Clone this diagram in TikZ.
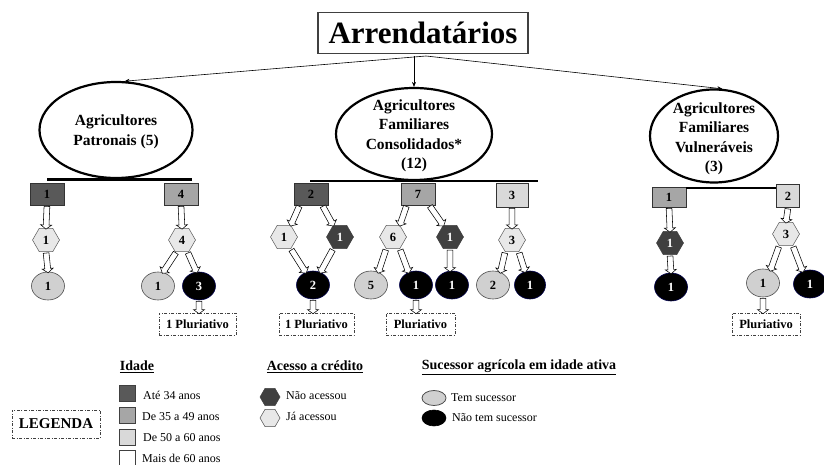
\documentclass[tikz,border=0pt]{standalone}
\usepackage{fontspec}
\setmainfont{Liberation Serif}
\usetikzlibrary{shapes.geometric,shapes.arrows,arrows.meta,calc}
\definecolor{cdark}{RGB}{89,89,89}
\definecolor{cmed}{RGB}{166,166,166}
\definecolor{clight}{RGB}{217,217,217}
\definecolor{hexlight}{RGB}{232,232,232}
\definecolor{hexdark}{RGB}{64,64,64}
\definecolor{leaflight}{RGB}{208,208,208}
\definecolor{titleborder}{RGB}{64,64,64}
\begin{document}
\begin{tikzpicture}[x=1pt,y=-1pt,
  ttl/.style={draw=titleborder, line width=1.8pt, minimum width=210pt, minimum height=41pt, inner sep=0pt, font=\fontsize{31}{34}\selectfont\bfseries},
  bigell/.style={ellipse, draw=black, line width=2.2pt, fill=white, inner sep=0pt},
  elltext/.style={font=\fontsize{15.5}{19.5}\selectfont\bfseries, align=center, inner sep=0pt},
  agebox/.style={rectangle, draw=black!80, line width=0.6pt, minimum width=34pt, minimum height=22pt, inner sep=0pt, font=\fontsize{12.5}{14}\selectfont\bfseries},
  hexL/.style={regular polygon, regular polygon sides=6, minimum size=27pt, inner sep=0pt, draw=gray!70!black, line width=0.5pt, fill=hexlight, font=\fontsize{12.5}{14}\selectfont\bfseries},
  hexD/.style={hexL, fill=hexdark, draw=hexdark, text=white},
  leafL/.style={ellipse, minimum width=33pt, minimum height=28pt, inner sep=0pt, draw=gray!60!black, line width=0.6pt, fill=leaflight, font=\fontsize{12.5}{14}\selectfont\bfseries},
  leafB/.style={leafL, fill=black, draw=black!70!blue, text=white},
  pluri/.style={draw=black!75, line width=0.6pt, dash pattern=on 3pt off 1.5pt on 1pt off 1.5pt, minimum height=22pt, inner sep=0pt, font=\fontsize{12.5}{15}\selectfont\bfseries},
  bar/.style={line width=2.5pt, black},
  thinarr/.style={draw=black, line width=0.6pt, -{Stealth[length=5pt,width=4pt]}},
  arrowbody/.style={single arrow, draw=black, line width=0.55pt, fill=white, inner sep=2.6pt, single arrow head extend=2.6pt, single arrow tip angle=105, outer sep=0pt},
  barrow/.style={to path={let \p1=(\tikztostart), \p2=(\tikztotarget), \n1={atan2(\y2-\y1,\x2-\x1)}, \n2={veclen(\x2-\x1,\y2-\y1)} in node[arrowbody, minimum height=\n2, rotate=\n1] at ($(\p1)!0.5!(\p2)$) {}}},
  sq/.style={rectangle, draw=gray!50!black, line width=0.8pt, minimum size=16pt, inner sep=0pt},
  legtext/.style={anchor=west, inner sep=0pt, font=\fontsize{12}{14}\selectfont},
  head/.style={inner sep=0pt, font=\fontsize{14}{16}\selectfont\bfseries}
]
\useasboundingbox (0,0) rectangle (824,465);

% title
\node[ttl] (T) at (423,33) {Arrendatários};
\coordinate (ts) at (426,56);

% big ellipses
\node[bigell, minimum width=153pt, minimum height=96pt] (E1) at (116,130) {};
\node[elltext] (E1t) at (116,132) {Agricultores\\Patronais (5)};
\node[bigell, minimum width=156pt, minimum height=92pt] (E2) at (414,134) {};
\node[elltext] (E2t) at (414,136) {Agricultores\\Familiares\\Consolidados*\\(12)};
\node[bigell, minimum width=128pt, minimum height=93pt] (E3) at (714,136) {};
\node[elltext] (E3t) at (714,139) {Agricultores\\Familiares\\Vulneráveis\\(3)};

\draw[thinarr] (ts) -- (E1.80);
\draw[thinarr] (E2.north |- ts) -- (E2.north);
\draw[thinarr] (ts) -- (E3.80);

% age boxes
\node[agebox, fill=cdark] (B11) at (47,194) {1};
\node[agebox, fill=cmed] (B12) at (181,194) {4};
\node[agebox, fill=cdark] (B21) at (311,194) {2};
\node[agebox, fill=cmed] (B22) at (418,194) {7};
\node[agebox, fill=clight, minimum width=32pt, minimum height=24pt] (B23) at (512,195) {3};
\node[agebox, fill=cmed, minimum height=20pt] (B31) at (669,197) {1};
\node[agebox, fill=clight, minimum width=23pt, minimum height=23pt] (B32) at (788,196) {2};

\draw[bar] ([yshift=3pt]B11.north) -- ([xshift=11pt,yshift=3pt]B12.north);
\draw[bar, line width=2pt] ([xshift=-1pt,yshift=2pt]B21.north) -- ([xshift=26pt,yshift=2pt]B23.north);
\draw[bar, line width=2pt] ([yshift=-1pt]B31.north east) -- ([yshift=-1pt]B31.north east -| B32.west);

% hexagons
\node[hexL] (H11) at (46,240) {1};
\node[hexL] (H12) at (182,240) {4};
\node[hexL] (H21) at (284,237) {1};
\node[hexD] (H22) at (340,237) {1};
\node[hexL] (H23) at (393,237) {6};
\node[hexD] (H24) at (450,237) {1};
\node[hexL] (H25) at (512,240) {3};
\node[hexD] (H31) at (670,243) {1};
\node[hexL] (H32) at (786,234) {3};

% leaves
\node[leafL] (L11) at (48,286) {1};
\node[leafL] (L12) at (158,286) {1};
\node[leafB] (L13) at (199,286) {3};
\node[leafB] (L21) at (313,285) {2};
\node[leafL] (L22) at (371,285) {5};
\node[leafB] (L23) at (416,285) {1};
\node[leafB] (L24) at (452,285) {1};
\node[leafL] (L25) at (493,285) {2};
\node[leafB, minimum width=31pt] (L26) at (530,285) {1};
\node[leafB] (L31) at (671,287) {1};
\node[leafL] (L32) at (763,283) {1};
\node[leafB] (L33) at (810,284) {1};

% pluriativo
\node[pluri, minimum width=77pt] (P1) at (197.5,324) {1 Pluriativo};
\node[pluri, minimum width=75pt] (P2) at (316.5,324) {1 Pluriativo};
\node[pluri, minimum width=69pt] (P3) at (420.5,324) {Pluriativo};
\node[pluri, minimum width=68pt] (P4) at (766,324) {Pluriativo};

% block arrows
\path (B11.south) to[barrow] (H11.north);
\path (H11.south) to[barrow] (L11.north);
\path (B12.south) to[barrow] (H12.north);
\path (H12.-115) to[barrow] (L12.70);
\path (H12.-65) to[barrow] (L13.100);
\path (L13.south) to[barrow] (L13.south |- P1.north);

\path (B21.-135) to[barrow] (H21.60);
\path (B21.-45) to[barrow] (H22.120);
\path (H21.-60) to[barrow] (L21.120);
\path (H22.-120) to[barrow] (L21.60);
\path (L21.south) to[barrow] (L21.south |- P2.north);
\path (B22.-135) to[barrow] (H23.60);
\path (B22.-45) to[barrow] (H24.120);
\path (H23.-120) to[barrow] (L22.60);
\path (H23.-60) to[barrow] (L23.120);
\path (H24.south) to[barrow] (H24.south |- L24.north);
\path (L23.south) to[barrow] (L23.south |- P3.north);
\path (B23.south) to[barrow] (H25.north);
\path (H25.-120) to[barrow] (L25.60);
\path (H25.-60) to[barrow] (L26.110);

\path (B31.south) to[barrow] (H31.north);
\path (H31.south) to[barrow] (L31.north);
\path (B32.south) to[barrow] (H32.north);
\path (H32.-120) to[barrow] (L32.60);
\path (H32.-60) to[barrow] (L33.120);
\path (L32.south) to[barrow] (L32.south |- P4.north);

% legend
\node[pluri, minimum width=88pt, minimum height=28pt, font=\fontsize{15}{17}\selectfont\bfseries] (LEG) at (56,424) {LEGENDA};

\node[head] (hI) at (137,367) {\underline{Idade}};
\node[sq, fill=cdark] (s1) at (127.5,393.5) {};
\node[sq, fill=cmed] (s2) at (127.5,415.5) {};
\node[sq, fill=clight] (s3) at (127.5,437.5) {};
\node[sq, fill=white] (s4) at (127.5,458.5) {};
\node[legtext] (t1) at (143,395) {Até 34 anos};
\node[legtext] (t2) at (142,417) {De 35 a 49 anos};
\node[legtext] (t3) at (143,438) {De 50 a 60 anos};
\node[legtext] (t4) at (142,458) {Mais de 60 anos};

\node[head] (hA) at (315,367) {\underline{Acesso a crédito}};
\node[hexD, minimum size=20pt] (lh1) at (270,397) {};
\node[hexL, minimum size=20pt, draw=gray!60!black] (lh2) at (270,418) {};
\node[legtext] (t5) at (286,396) {Não acessou};
\node[legtext] (t6) at (286,416) {Já acessou};

\node[head] (hS) at (519,367) {\underline{Sucessor agrícola em idade ativa}};
\node[leafL, minimum width=24pt, minimum height=15pt, line width=0.8pt] (le1) at (434,398) {};
\node[leafB, minimum width=24pt, minimum height=16pt, draw=black] (le2) at (434,418) {};
\node[legtext] (t7) at (451,398) {Tem sucessor};
\node[legtext] (t8) at (452,418) {Não tem sucessor};
\end{tikzpicture}
\end{document}
